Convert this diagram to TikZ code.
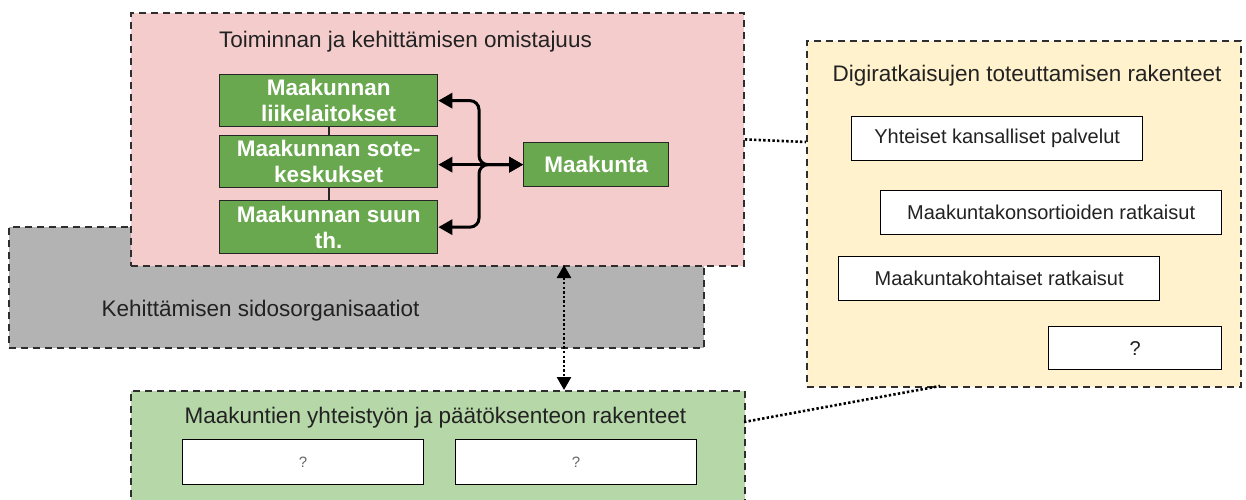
\documentclass[tikz,border=0pt]{standalone}
\usepackage{fontspec}
\setmainfont{Liberation Sans}
\usetikzlibrary{arrows.meta,calc}

\definecolor{pinkbg}{HTML}{F4CCCC}
\definecolor{graybg}{HTML}{B3B3B3}
\definecolor{yellowbg}{HTML}{FFF2CC}
\definecolor{lightgreen}{HTML}{B6D7A8}
\definecolor{darkgreen}{HTML}{6AA84F}
\definecolor{edgegray}{HTML}{2E2E2E}
\definecolor{txt}{HTML}{222222}

\tikzset{
  container/.style={draw=edgegray, line width=1.8pt, dash pattern=on 7pt off 5pt,
    inner sep=0pt, anchor=north west},
  heading/.style={text=txt, font=\fontsize{22.5}{26}\selectfont, anchor=base, inner sep=0pt},
  whitebox/.style={draw=black, line width=1.3pt, fill=white, inner sep=0pt,
    anchor=north west, text=txt, font=\fontsize{20}{24}\selectfont},
  qbox/.style={whitebox, text=black!60, font=\fontsize{15}{18}\selectfont},
  unitbox/.style={draw=black!85, line width=1.3pt, fill=darkgreen, inner sep=0pt,
    anchor=north west, text=white, align=center,
    font=\fontsize{22.5}{26}\bfseries\selectfont},
  biarrow/.style={line width=3pt, rounded corners=9pt,
    {Triangle[length=14pt,width=15pt]}-{Triangle[length=14pt,width=15pt]}},
  dotline/.style={line width=2.6pt, dash pattern=on 2.4pt off 2.2pt, black},
  dotarrow/.style={dotline, {Triangle[length=13pt,width=14pt]}-{Triangle[length=13pt,width=14pt]}},
}

\begin{document}
\begin{tikzpicture}[x=1pt, y=-1pt]
\useasboundingbox (0,0) rectangle (1246,500);

% outer groups
\node[container, fill=graybg, minimum width=695pt, minimum height=121pt] (sido) at (8,226) {};
\node[container, fill=pinkbg, minimum width=613pt, minimum height=253pt] (omis) at (130,12) {};
\node[container, fill=yellowbg, minimum width=434pt, minimum height=346pt] (digi) at (806,40) {};
\node[container, fill=lightgreen, minimum width=614pt, minimum height=125pt] (yht) at (130,390) {};

% headings
\node[heading] (omisT) at (405.5,48) {Toiminnan ja kehittämisen omistajuus};
\node[heading] (sidoT) at (260.5,316) {Kehittämisen sidosorganisaatiot};
\node[heading] (digiT) at (1027,82) {Digiratkaisujen toteuttamisen rakenteet};
\node[heading] (yhtT) at (435.5,423) {Maakuntien yhteistyön ja päätöksenteon rakenteet};

% regional units
\node[unitbox, minimum width=218pt, minimum height=52pt] (b1) at (219,74) {Maakunnan\\liikelaitokset};
\node[unitbox, minimum width=218pt, minimum height=52pt] (b2) at (219,135) {Maakunnan sote-\\keskukset};
\node[unitbox, minimum width=218pt, minimum height=53pt] (b3) at (219,200) {Maakunnan suun\\th.};
\node[unitbox, minimum width=145pt, minimum height=44pt] (maak) at (523,142) {Maakunta};

\draw[line width=1.8pt, black!85] (b1.south) -- (b2.north);
\draw[line width=1.8pt, black!85] (b2.south) -- (b3.north);

\coordinate (fork) at ($(maak.west)+(-44,0)$);
\draw[biarrow] (b1.east) -| (fork) -- (maak.west);
\draw[biarrow] (b3.east) -| (fork) -- (maak.west);
\draw[biarrow] (maak.west -| b2.east) -- (maak.west);

% digital solution layers
\node[whitebox, minimum width=291pt, minimum height=44pt] (kans) at (851,116) {Yhteiset kansalliset palvelut};
\node[whitebox, minimum width=341pt, minimum height=44pt] (kons) at (880,190) {Maakuntakonsortioiden ratkaisut};
\node[whitebox, minimum width=321pt, minimum height=44pt] (koht) at (838,256) {Maakuntakohtaiset ratkaisut};
\node[whitebox, minimum width=173pt, minimum height=43pt] (dq) at (1048,326) {?};

% cooperation structures
\node[qbox, minimum width=241pt, minimum height=45pt] (q1) at (182,439) {?};
\node[qbox, minimum width=241pt, minimum height=45pt] (q2) at (455,439) {?};

% links between groups
\coordinate (vA) at (564,265);
\coordinate (vB) at (564,390);
\draw[dotarrow] (vA) -- (vB);

\coordinate (pY) at (806,142);
\draw[dotline] (omis.east) -- (pY);

\coordinate (gE) at (744,422);
\coordinate (yB) at (940,386);
\draw[dotline] (gE) -- (yB);
\end{tikzpicture}
\end{document}
